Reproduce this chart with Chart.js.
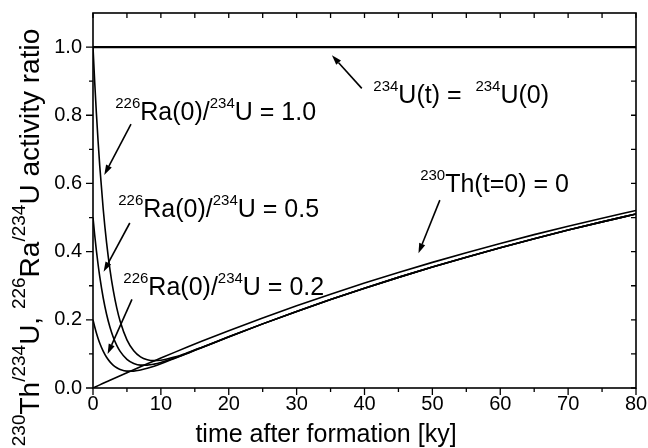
<!DOCTYPE html>
<html><head><meta charset="utf-8">
<style>html,body{margin:0;padding:0;background:#fff}#wrap{width:648px;height:448px}</style>
<script src="https://cdn.jsdelivr.net/npm/chart.js@4"></script>
</head><body><div id="wrap"><canvas id="c" width="648" height="448"></canvas></div>
<script>
// time after formation [ky]
const times = [0,0.25,0.5,0.75,1,1.5,2,2.5,3,3.5,4,5,6,7,8,9,10,12,14,16,20,25,30,35,40,45,50,55,60,65,70,75,80];
// 230Th/234U activity ratio, 230Th(t=0)=0
const thorium = [0,0.0023,0.0046,0.0069,0.0092,0.0137,0.0182,0.0227,0.0272,0.0317,0.0361,0.0449,0.0537,0.0623,0.0709,0.0794,0.0878,0.1045,0.1208,0.1368,0.1680,0.2053,0.2411,0.2752,0.3077,0.3388,0.3685,0.3969,0.4240,0.4499,0.4746,0.4982,0.5207];
// 226Ra/234U activity ratio for different initial 226Ra(0)/234U
const radium10 = [1.0,0.8975,0.8057,0.7236,0.6502,0.5258,0.4265,0.3475,0.2847,0.2350,0.1958,0.1413,0.1091,0.0912,0.0828,0.0802,0.0815,0.0907,0.1041,0.1191,0.1501,0.1881,0.2246,0.2594,0.2927,0.3245,0.3548,0.3838,0.4115,0.4379,0.4632,0.4873,0.5103];
const radium05 = [0.5,0.4488,0.4031,0.3623,0.3259,0.2647,0.2163,0.1782,0.1483,0.1252,0.1074,0.0840,0.0719,0.0671,0.0672,0.0700,0.0749,0.0879,0.1029,0.1186,0.1500,0.1881,0.2246,0.2594,0.2927,0.3245,0.3548,0.3838,0.4115,0.4379,0.4632,0.4873,0.5103];
const radium02 = [0.2,0.1796,0.1615,0.1455,0.1314,0.1081,0.0901,0.0766,0.0666,0.0594,0.0544,0.0496,0.0496,0.0527,0.0578,0.0639,0.0710,0.0863,0.1022,0.1183,0.1499,0.1881,0.2246,0.2594,0.2927,0.3245,0.3548,0.3838,0.4115,0.4379,0.4632,0.4873,0.5103];
// 234U(t) = 234U(0)
const uraniumTimes = [0,80];
const uranium = [1,1];
// tick values
const xTicks = [0,10,20,30,40,50,60,70,80];
const xMinorTicks = [5,15,25,35,45,55,65,75];
const yTicks = [0,0.2,0.4,0.6,0.8,1.0];
const yMinorTicks = [0.1,0.3,0.5,0.7,0.9];

// annotation texts: [text, isSuperscript]
const annotationTexts = [
  [['226',1],['Ra(0)/',0],['234',1],['U = 1.0',0]],
  [['226',1],['Ra(0)/',0],['234',1],['U = 0.5',0]],
  [['226',1],['Ra(0)/',0],['234',1],['U = 0.2',0]],
  [['234',1],['U(t) =  ',0],['234',1],['U(0)',0]],
  [['230',1],['Th(t=0) = 0',0]]
];
const annotationAnchors = [[3.28,0.787],[3.72,0.501],[4.47,0.273],[41.3,0.836],[48.2,0.575]];
// arrows: [fromX, fromY, toX, toY] in data units
const arrows = [
  [5.6,0.774,1.66,0.625],
  [5.42,0.484,1.56,0.341],
  [5.74,0.26,2.15,0.0997],
  [39.6,0.879,35.2,0.976],
  [51.1,0.551,47.95,0.395]
];
const yTitle = [['230',1],['Th',0],['/234',1],['U, ',0],['226',1],['Ra',0],['/234',1],['U activity ratio',0]];
const xTitle = [['time after formation [ky]',0]];

const FONT = '"Liberation Sans", Arial, Helvetica, sans-serif';

function richWidth(ctx, parts, mainSize, supSize) {
  let w = 0;
  for (const [t, s] of parts) {
    ctx.font = (s ? supSize : mainSize) + 'px ' + FONT;
    w += ctx.measureText(t).width;
  }
  return w;
}
function drawRich(ctx, parts, x, y, mainSize, supSize, raise) {
  let cx = x;
  ctx.textBaseline = 'alphabetic';
  ctx.textAlign = 'left';
  for (const [t, s] of parts) {
    ctx.font = (s ? supSize : mainSize) + 'px ' + FONT;
    ctx.fillText(t, cx, s ? y - raise : y);
    cx += ctx.measureText(t).width;
  }
}

const decorPlugin = {
  id: 'decor',
  afterDraw(chart) {
    const ctx = chart.ctx;
    const a = chart.chartArea;
    const xs = chart.scales.x, ys = chart.scales.y;
    ctx.save();
    ctx.strokeStyle = '#000';
    ctx.fillStyle = '#000';
    // frame
    ctx.lineWidth = 1.6;
    ctx.strokeRect(a.left, a.top, a.right - a.left, a.bottom - a.top);
    // ticks
    ctx.lineWidth = 1.3;
    ctx.beginPath();
    const tick = (x1, y1, x2, y2) => { ctx.moveTo(x1, y1); ctx.lineTo(x2, y2); };
    xTicks.forEach(v => { const p = xs.getPixelForValue(v); tick(p, a.bottom, p, a.bottom + 7); tick(p, a.top, p, a.top + 5); });
    xMinorTicks.forEach(v => { const p = xs.getPixelForValue(v); tick(p, a.bottom, p, a.bottom + 4); tick(p, a.top, p, a.top + 5); });
    yTicks.forEach(v => { const p = ys.getPixelForValue(v); tick(a.left - 7, p, a.left, p); tick(a.right - 5, p, a.right, p); });
    yMinorTicks.forEach(v => { const p = ys.getPixelForValue(v); tick(a.left - 4, p, a.left, p); tick(a.right - 5, p, a.right, p); });
    ctx.stroke();
    // annotations
    annotationTexts.forEach((parts, i) => {
      const [vx, vy] = annotationAnchors[i];
      drawRich(ctx, parts, xs.getPixelForValue(vx), ys.getPixelForValue(vy), 25, 15, 12);
    });
    // arrows
    arrows.forEach(([x1, y1, x2, y2]) => {
      const px1 = xs.getPixelForValue(x1), py1 = ys.getPixelForValue(y1);
      const px2 = xs.getPixelForValue(x2), py2 = ys.getPixelForValue(y2);
      const ang = Math.atan2(py2 - py1, px2 - px1);
      const L = 10, W = 3.2;
      const bx = px2 - L * Math.cos(ang), by = py2 - L * Math.sin(ang);
      ctx.lineWidth = 1.6;
      ctx.beginPath(); ctx.moveTo(px1, py1); ctx.lineTo(bx, by); ctx.stroke();
      ctx.beginPath();
      ctx.moveTo(px2, py2);
      ctx.lineTo(bx + W * Math.sin(ang), by - W * Math.cos(ang));
      ctx.lineTo(bx - W * Math.sin(ang), by + W * Math.cos(ang));
      ctx.closePath(); ctx.fill();
    });
    // x title
    const xw = richWidth(ctx, xTitle, 25, 15);
    drawRich(ctx, xTitle, 326 - xw / 2, 442, 25, 15, 12);
    // y title
    ctx.save();
    ctx.translate(38.5, 237.5);
    ctx.rotate(-Math.PI / 2);
    const yw = richWidth(ctx, yTitle, 28, 19);
    drawRich(ctx, yTitle, -yw / 2, 0, 28, 19, 13.5);
    ctx.restore();
    ctx.restore();
  }
};

const noPad = s => { s.paddingTop = 0; s.paddingBottom = 0; s.paddingLeft = 0; s.paddingRight = 0; };
const pts = (xsArr, ysArr) => xsArr.map((x, i) => ({ x, y: ysArr[i] }));
const lineStyle = { borderColor: '#000', borderWidth: 1.6, pointRadius: 0, fill: false, cubicInterpolationMode: 'monotone' };

new Chart(document.getElementById('c'), {
  type: 'line',
  data: {
    datasets: [
      Object.assign({ label: '234U(t) = 234U(0)', data: pts(uraniumTimes, uranium) }, lineStyle, { borderWidth: 2.2 }),
      Object.assign({ label: '230Th/234U', data: pts(times, thorium) }, lineStyle),
      Object.assign({ label: '226Ra(0)/234U = 1.0', data: pts(times, radium10) }, lineStyle),
      Object.assign({ label: '226Ra(0)/234U = 0.5', data: pts(times, radium05) }, lineStyle),
      Object.assign({ label: '226Ra(0)/234U = 0.2', data: pts(times, radium02) }, lineStyle)
    ]
  },
  options: {
    responsive: false,
    animation: false,
    devicePixelRatio: 1,
    layout: { padding: { left: 0, right: 12, top: 13, bottom: 0 } },
    plugins: { legend: { display: false }, tooltip: { enabled: false }, title: { display: false } },
    scales: {
      x: {
        type: 'linear', min: 0, max: 80,
        afterBuildTicks: s => { s.ticks = xTicks.map(v => ({ value: v })); },
        afterFit: s => { s.height = 60; noPad(s); },
        ticks: { color: '#000', font: { size: 20, family: FONT }, padding: 4, maxRotation: 0, autoSkip: false },
        grid: { display: false, drawTicks: false },
        border: { display: false }
      },
      y: {
        type: 'linear', min: 0, max: 1.1,
        afterBuildTicks: s => { s.ticks = yTicks.map(v => ({ value: v })); },
        afterFit: s => { s.width = 93; noPad(s); },
        ticks: { color: '#000', font: { size: 20, family: FONT }, padding: 11, callback: v => Number(v).toFixed(1) },
        grid: { display: false, drawTicks: false },
        border: { display: false }
      }
    }
  },
  plugins: [decorPlugin]
});
</script>
</body></html>
